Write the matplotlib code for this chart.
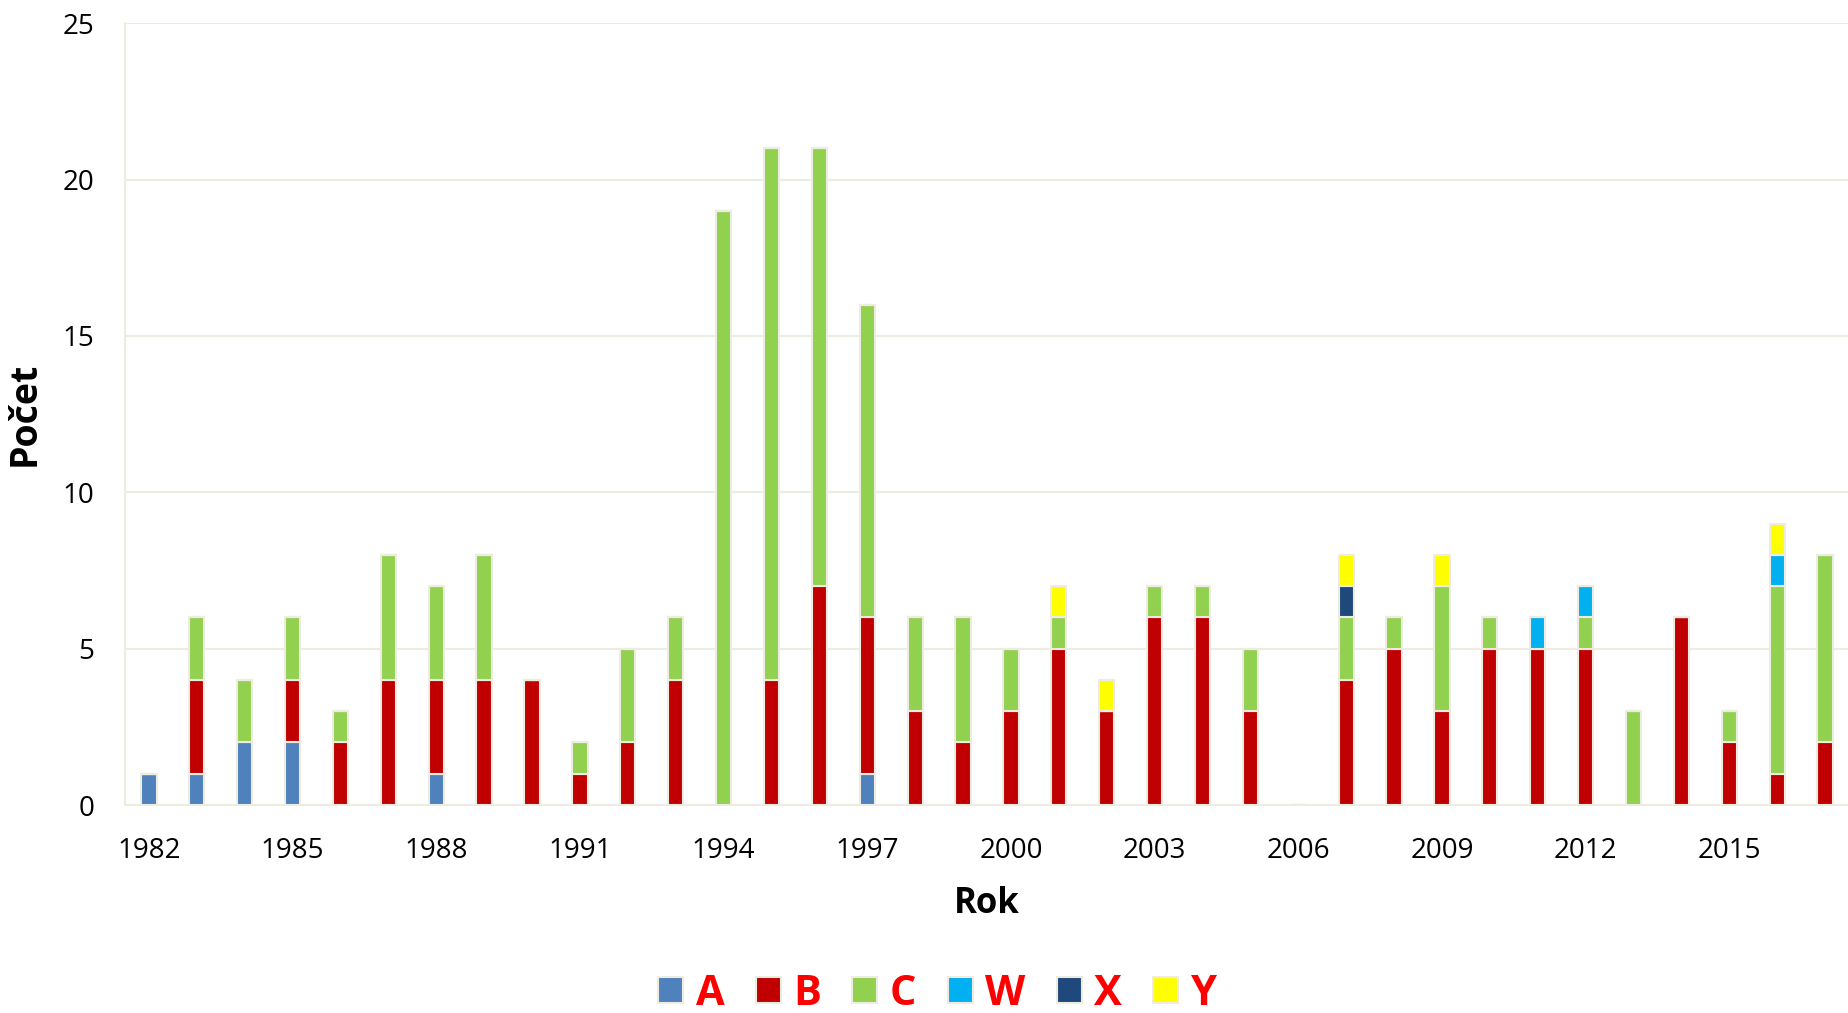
import matplotlib
matplotlib.use("Agg")
import matplotlib.pyplot as plt
from matplotlib.patches import Patch
import numpy as np

years = list(range(1982, 2018))

# counts per year for each category
A = [1, 1, 2, 2, 0, 0, 1, 0, 0, 0, 0, 0, 0, 0, 0, 1, 0, 0, 0, 0, 0, 0,
     0, 0, 0, 0, 0, 0, 0, 0, 0, 0, 0, 0, 0, 0]
B = [0, 3, 0, 2, 2, 4, 3, 4, 4, 1, 2, 4, 0, 4, 7, 5, 3, 2, 3, 5, 3, 6,
     6, 3, 0, 4, 5, 3, 5, 5, 5, 0, 6, 2, 1, 2]
C = [0, 2, 2, 2, 1, 4, 3, 4, 0, 1, 3, 2, 19, 17, 14, 10, 3, 4, 2, 1, 0, 1,
     1, 2, 0, 2, 1, 4, 1, 0, 1, 3, 0, 1, 6, 6]
W = [0, 0, 0, 0, 0, 0, 0, 0, 0, 0, 0, 0, 0, 0, 0, 0, 0, 0, 0, 0, 0, 0,
     0, 0, 0, 0, 0, 0, 0, 1, 1, 0, 0, 0, 1, 0]
X = [0, 0, 0, 0, 0, 0, 0, 0, 0, 0, 0, 0, 0, 0, 0, 0, 0, 0, 0, 0, 0, 0,
     0, 0, 0, 1, 0, 0, 0, 0, 0, 0, 0, 0, 0, 0]
Y = [0, 0, 0, 0, 0, 0, 0, 0, 0, 0, 0, 0, 0, 0, 0, 0, 0, 0, 0, 1, 1, 0,
     0, 0, 0, 1, 0, 1, 0, 0, 0, 0, 0, 0, 1, 0]

series = [("A", A), ("B", B), ("C", C), ("W", W), ("X", X), ("Y", Y)]
colors = {"A": "#4F81BD", "B": "#C00000", "C": "#92D050",
          "W": "#00B0F0", "X": "#1F497D", "Y": "#FFFF00"}

plt.rcParams['font.family'] = ['Open Sans', 'DejaVu Sans']
grid_col = "#EEECE1"

fig = plt.figure(figsize=(18.49, 10.13), dpi=100)
ax = fig.add_axes([0.0676, 0.2053, 0.9324, 0.7717])

x = np.arange(len(years))
bottom = np.zeros(len(years))
for name, vals in series:
    vals = np.array(vals, dtype=float)
    ax.bar(x, vals, width=0.32, bottom=bottom, color=colors[name],
           edgecolor=grid_col, linewidth=1.5, zorder=3)
    bottom += vals

ax.set_xlim(-0.5, len(years) - 0.5)
ax.set_ylim(0, 25)
ax.set_yticks([0, 5, 10, 15, 20, 25])
ax.set_xticks(x[::3])
ax.set_xticklabels([str(y) for y in years[::3]])
ax.tick_params(axis='both', length=0, labelsize=20)
ax.tick_params(axis='y', pad=22)
ax.tick_params(axis='x', pad=23)
ax.yaxis.grid(True, color=grid_col, linewidth=1.5, zorder=0)
for s in ["top", "right"]:
    ax.spines[s].set_visible(False)
for s in ["left", "bottom"]:
    ax.spines[s].set_color(grid_col)
    ax.spines[s].set_linewidth(1.5)

ax.set_xlabel("Rok", fontsize=25, fontweight="bold", labelpad=15)
ax.set_ylabel("Počet", fontsize=27, fontweight="bold")
ax.yaxis.set_label_coords(-0.047, 0.5)

handles = [Patch(facecolor=colors[n], edgecolor=grid_col, linewidth=1.5)
           for n, _ in series]
leg = fig.legend(handles, [n for n, _ in series], loc="center",
                 bbox_to_anchor=(0.507, 1 - 994 / 1013), ncol=6, frameon=False,
                 handlelength=0.6, handleheight=0.6, handletextpad=0.3,
                 columnspacing=0.75, borderpad=0.1,
                 prop={"size": 30, "weight": "bold"})
for t in leg.get_texts():
    t.set_color("#FF0000")

fig.savefig("out.png", dpi=100)
